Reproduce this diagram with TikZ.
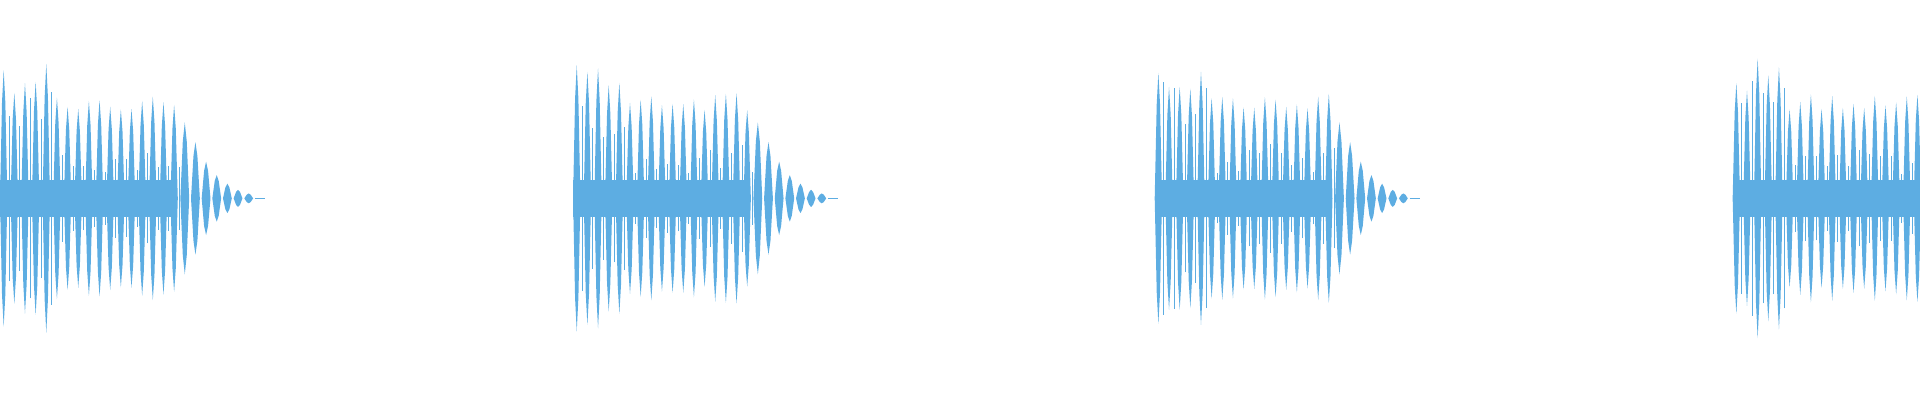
\documentclass[tikz,border=0pt]{standalone}
\usepackage{tikz}

\definecolor{wave}{HTML}{5DADE2}
\tikzset{
  spike/.style={draw=wave, line width=0.6pt},
  tail/.style={draw=wave, line width=1.2pt, dash pattern=on 12pt off 8pt}
}
% one spindle: centre x, half width, height
\newcommand{\spindle}[3]{%
  \fill[wave] (#1-#2,0) -- (#1-#2*0.45,#3*0.75) -- (#1,#3) -- (#1+#2*0.45,#3*0.75)
    -- (#1+#2,0) -- (#1+#2*0.45,-#3*0.75) -- (#1,-#3) -- (#1-#2*0.45,-#3*0.75) -- cycle;}
% one burst: start x, number of body spindles, with tail (1) or not
\newcommand{\burst}[3]{%
  \pgfmathsetmacro{\bend}{#1+(#2-1)*8.7+3}
  \fill[wave] (#1,-15) rectangle (\bend,15);
  \foreach \k in {0,...,\numexpr#2-1\relax}{
    \pgfmathsetmacro{\xc}{#1+3+\k*8.7}
    \pgfmathsetmacro{\h}{(\k<5 ? 85+30*rnd : 72+14*rnd)}
    \spindle{\xc}{3}{\h}
    \pgfmathsetmacro{\hs}{(\k<5 ? 50+50*rnd : 20+25*rnd)}
    \draw[spike] (\xc+4.3,-\hs) -- (\xc+4.3,\hs);
  }
  \ifnum#3=1
  \foreach \a [count=\k] in {62,46,30,19,12,7,4}{
    \pgfmathsetmacro{\xc}{\bend+\k*8.7}
    \spindle{\xc}{3.6}{\a}
  }
  \draw[tail] (\bend+66,0) -- (\bend+76,0);
  \fi
}

\begin{document}
\begin{tikzpicture}[x=0.05cm,y=0.05cm]
  \pgfmathsetseed{11}
  \useasboundingbox (0,-165) rectangle (1568,162);
  \burst{0}{17}{1}
  \burst{468}{17}{1}
  \burst{943}{17}{1}
  \burst{1415}{18}{0}
\end{tikzpicture}
\end{document}
